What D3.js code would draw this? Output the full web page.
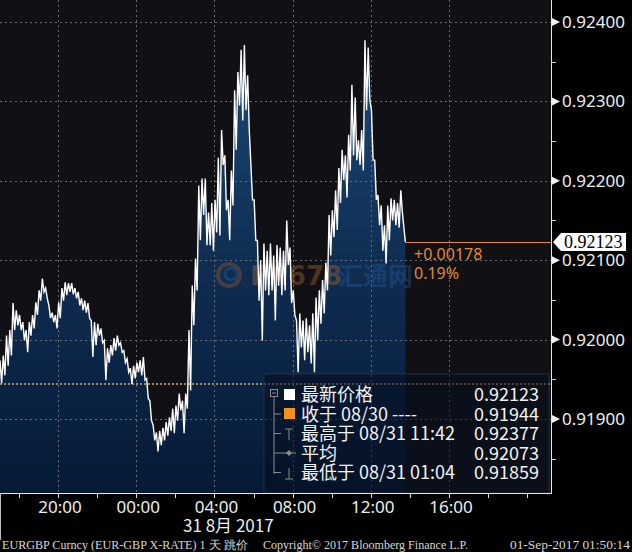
<!DOCTYPE html>
<html><head><meta charset="utf-8">
<script src="https://cdn.jsdelivr.net/npm/d3@7"></script>
<style>body{margin:0;background:#000;overflow:hidden} svg{display:block}</style>
</head><body>
<svg id="chart" width="632" height="552"></svg>
<script>
// ---------- data ----------
const startTime = new Date(2017, 7, 30, 17, 2);   // first bucket
const stepMinutes = 10;                            // each bucket: high then low
const highs = [0.91974,0.91980,0.92005,0.92012,0.92046,0.92037,0.92031,0.92022,0.92012,0.92022,
  0.92031,0.92047,0.92062,0.92077,0.92065,0.92043,0.92034,0.92031,0.92047,0.92065,
  0.92072,0.92071,0.92071,0.92065,0.92060,0.92052,0.92049,0.92046,0.92024,0.92022,
  0.92020,0.92014,0.91999,0.91989,0.91993,0.92002,0.92005,0.91996,0.91986,0.91976,
  0.91964,0.91967,0.91971,0.91974,0.91978,0.91951,0.91923,0.91892,0.91883,0.91885,
  0.91889,0.91896,0.91902,0.91913,0.91917,0.91932,0.91923,0.91932,0.92012,0.92068,
  0.92102,0.92194,0.92203,0.92203,0.92160,0.92172,0.92176,0.92229,0.92264,0.92232,
  0.92176,0.92213,0.92314,0.92337,0.92365,0.92371,0.92333,0.92220,0.92176,0.92125,
  0.92100,0.92121,0.92112,0.92121,0.92106,0.92119,0.92116,0.92112,0.92150,0.92116,
  0.92062,0.92024,0.92033,0.92024,0.92027,0.92018,0.92033,0.92053,0.92062,0.92075,
  0.92097,0.92157,0.92163,0.92188,0.92216,0.92239,0.92232,0.92258,0.92321,0.92305,
  0.92251,0.92264,0.92377,0.92368,0.92289,0.92226,0.92182,0.92169,0.92144,0.92169,
  0.92178,0.92176,0.92172,0.92188];
const lows = [0.91945,0.91955,0.91967,0.91980,0.92012,0.92018,0.92012,0.91999,0.91984,0.92005,
  0.92014,0.92031,0.92049,0.92060,0.92052,0.92027,0.92022,0.92014,0.92027,0.92049,
  0.92056,0.92060,0.92057,0.92052,0.92043,0.92037,0.92034,0.92027,0.91978,0.91993,
  0.92005,0.91996,0.91949,0.91971,0.91980,0.91986,0.91993,0.91984,0.91971,0.91959,
  0.91944,0.91951,0.91959,0.91955,0.91949,0.91926,0.91898,0.91873,0.91859,0.91867,
  0.91873,0.91879,0.91885,0.91882,0.91898,0.91911,0.91882,0.91913,0.91936,0.92018,
  0.92062,0.92125,0.92157,0.92119,0.92119,0.92112,0.92135,0.92131,0.92220,0.92163,
  0.92125,0.92169,0.92239,0.92295,0.92276,0.92289,0.92264,0.92176,0.92125,0.92049,
  0.91999,0.92062,0.92056,0.92062,0.92024,0.92068,0.92056,0.92062,0.92094,0.92046,
  0.92031,0.91959,0.91990,0.91974,0.91984,0.91970,0.91959,0.91999,0.92020,0.92033,
  0.92062,0.92106,0.92129,0.92138,0.92172,0.92201,0.92179,0.92213,0.92232,0.92226,
  0.92220,0.92213,0.92289,0.92302,0.92226,0.92176,0.92144,0.92112,0.92096,0.92125,
  0.92150,0.92144,0.92141,0.92160];
const lastTime = new Date(2017, 7, 31, 13, 46);
const lastPrice = 0.92123;
const prevClose = 0.91944;
const change = "+0.00178";
const changePct = "0.19%";
const yTicks = [0.919, 0.920, 0.921, 0.922, 0.923, 0.924];
const yMinorTicks = [0.9185, 0.9195, 0.9205, 0.9215, 0.9225, 0.9235];
const xLabelHours = [20, 0, 4, 8, 12, 16];
const dateLabel = "31 8月 2017";
const legendLabels = ["最新价格", "收于 08/30 ----", "最高于 08/31 11:42", "平均", "最低于 08/31 01:04"];
const legendValues = ["0.92123", "0.91944", "0.92377", "0.92073", "0.91859"];
const footerParts = ["EURGBP Curncy (EUR-GBP X-RATE) 1 天  跳价", "Copyright© 2017 Bloomberg Finance L.P.", "01-Sep-2017 01:50:14"];

// ---------- layout ----------
const W = 632, H = 552, PR = 551, PB = 493;
const svg = d3.select("#chart");
const x = d3.scaleTime()
  .domain([startTime, new Date(2017, 7, 31, 21, 13)])
  .range([0, PR]);
const y = d3.scaleLinear().domain([0.918068, 0.924277]).range([PB, 0]);

const pts = [];
highs.forEach((h, i) => {
  const t = d3.timeMinute.offset(startTime, i * stepMinutes);
  pts.push({t, v: h});
  pts.push({t: d3.timeMinute.offset(t, stepMinutes / 2), v: lows[i]});
});
pts.push({t: lastTime, v: lastPrice});

const defs = svg.append("defs");
const grad = defs.append("linearGradient").attr("id", "ag")
  .attr("gradientUnits", "userSpaceOnUse").attr("x1", 0).attr("x2", 0).attr("y1", 40).attr("y2", PB);
grad.append("stop").attr("offset", 0).attr("stop-color", "#1c4978");
grad.append("stop").attr("offset", 0.5).attr("stop-color", "#0f2d52");
grad.append("stop").attr("offset", 1).attr("stop-color", "#061a36");
defs.append("clipPath").attr("id", "clip").append("rect").attr("x", 0).attr("y", 0).attr("width", PR).attr("height", PB);

// background
svg.append("rect").attr("width", W).attr("height", H).attr("fill", "#000");
svg.append("rect").attr("width", PR).attr("height", PB).attr("fill", "#111115");

const plot = svg.append("g").attr("clip-path", "url(#clip)");

// area
plot.append("path").datum(pts)
  .attr("fill", "url(#ag)")
  .attr("d", d3.area().x(d => x(d.t)).y0(PB).y1(d => y(d.v)));

// grid
const gridColor = "#6a6a70";
plot.selectAll(".hg").data(yTicks).enter().append("line")
  .attr("x1", 0).attr("x2", PR).attr("y1", d => Math.round(y(d)) + 0.5).attr("y2", d => Math.round(y(d)) + 0.5)
  .attr("stroke", gridColor).attr("stroke-dasharray", "2,3");
const labelTimes = d3.timeHour.every(2).range(startTime, new Date(2017, 7, 31, 21, 13))
  .filter(t => xLabelHours.includes(t.getHours()) && x(t) < 470);
plot.selectAll(".vg").data(labelTimes).enter().append("line")
  .attr("x1", d => Math.round(x(d)) + 0.5).attr("x2", d => Math.round(x(d)) + 0.5).attr("y1", 0).attr("y2", PB)
  .attr("stroke", gridColor).attr("stroke-dasharray", "2,3");

// watermark
const wm = plot.append("g").attr("opacity", 0.32);
wm.append("circle").attr("cx", 229).attr("cy", 275).attr("r", 11).attr("fill", "none").attr("stroke", "#c0602a").attr("stroke-width", 4);
wm.append("circle").attr("cx", 231).attr("cy", 274).attr("r", 6).attr("fill", "none").attr("stroke", "#2d6aa8").attr("stroke-width", 3);
wm.append("text").attr("x", 250).attr("y", 285).attr("font-family", "DejaVu Sans").attr("font-weight", "bold")
  .attr("font-size", 26).attr("fill", "#d8782e").text("FX678");
wm.append("text").attr("x", 338).attr("y", 285).attr("font-family", "Noto Sans CJK SC").attr("font-weight", "bold")
  .attr("font-size", 25).attr("fill", "#2a66a8").text("汇通网");

// previous close dotted
plot.append("line").attr("x1", 0).attr("x2", PR).attr("y1", y(prevClose)).attr("y2", y(prevClose))
  .attr("stroke", "#d9a868").attr("stroke-width", 1.6).attr("stroke-dasharray", "2,2");

// price line
plot.append("path").datum(pts)
  .attr("fill", "none").attr("stroke", "#ffffff").attr("stroke-width", 1.4)
  .attr("d", d3.line().x(d => x(d.t)).y(d => y(d.v)));

// last price horizontal
svg.append("line").attr("x1", x(lastTime)).attr("x2", PR).attr("y1", Math.round(y(lastPrice)) + 0.5).attr("y2", Math.round(y(lastPrice)) + 0.5)
  .attr("stroke", "#e48a4a").attr("stroke-width", 1.2);
svg.append("text").attr("x", 414).attr("y", 260).attr("font-family", "Noto Sans").attr("font-size", 16)
  .attr("fill", "#e0883e").text(change);
svg.append("text").attr("x", 414).attr("y", 279).attr("font-family", "Noto Sans").attr("font-size", 16)
  .attr("fill", "#e0883e").text(changePct);

// legend box
const lg = svg.append("g");
lg.append("rect").attr("x", 264).attr("y", 374).attr("width", 285).attr("height", 119)
  .attr("fill", "rgba(6,14,30,0.55)").attr("stroke", "rgba(60,70,90,0.5)");
const rowY = [401, 420.5, 440, 459.5, 479];
const tree = "#8a8a8a";
lg.append("rect").attr("x", 270.5).attr("y", 389.5).attr("width", 7).attr("height", 7).attr("fill", "none").attr("stroke", tree);
lg.append("line").attr("x1", 272).attr("x2", 276).attr("y1", 393).attr("y2", 393).attr("stroke", tree);
lg.append("line").attr("x1", 274).attr("x2", 274).attr("y1", 397).attr("y2", 474).attr("stroke", tree);
[1, 2, 3, 4].forEach(i => lg.append("line").attr("x1", 274).attr("x2", 281).attr("y1", rowY[i] - 6.5).attr("y2", rowY[i] - 6.5).attr("stroke", tree));
lg.append("rect").attr("x", 284).attr("y", 389).attr("width", 11).attr("height", 11).attr("fill", "#ffffff");
lg.append("rect").attr("x", 284).attr("y", 408).attr("width", 11).attr("height", 11).attr("fill", "#f0941c");
// high icon
lg.append("line").attr("x1", 285).attr("x2", 293).attr("y1", 429).attr("y2", 429).attr("stroke", tree);
lg.append("line").attr("x1", 289).attr("x2", 289).attr("y1", 429).attr("y2", 440).attr("stroke", tree);
// avg icon
lg.append("line").attr("x1", 281).attr("x2", 296).attr("y1", 453).attr("y2", 453).attr("stroke", tree);
lg.append("path").attr("d", "M289,450 L292,453 L289,456 L286,453 Z").attr("fill", tree);
// low icon
lg.append("line").attr("x1", 285).attr("x2", 293).attr("y1", 479).attr("y2", 479).attr("stroke", tree);
lg.append("line").attr("x1", 289).attr("x2", 289).attr("y1", 468).attr("y2", 479).attr("stroke", tree);
lg.selectAll(".ll").data(legendLabels).enter().append("text")
  .attr("x", 301).attr("y", (d, i) => rowY[i]).attr("font-family", "Noto Sans CJK SC").attr("font-size", 18)
  .attr("fill", "#f2f2f2").text(d => d);
lg.selectAll(".lv").data(legendValues).enter().append("text")
  .attr("x", 539).attr("y", (d, i) => rowY[i]).attr("text-anchor", "end").attr("font-family", "Noto Sans CJK SC").attr("font-size", 18)
  .attr("fill", "#f2f2f2").text(d => d);

// axes lines
svg.append("line").attr("x1", PR + 0.5).attr("x2", PR + 0.5).attr("y1", 0).attr("y2", PB + 1).attr("stroke", "#e8e8e8");
svg.append("line").attr("x1", 0).attr("x2", PR + 1).attr("y1", PB + 0.5).attr("y2", PB + 0.5).attr("stroke", "#e8e8e8");
svg.append("line").attr("x1", 0.5).attr("x2", 0.5).attr("y1", PB).attr("y2", 540).attr("stroke", "#bbbbbb");

// right axis
const ra = svg.append("g");
ra.selectAll(".mt").data(yMinorTicks).enter().append("line")
  .attr("x1", PR).attr("x2", PR + 5).attr("y1", d => Math.round(y(d)) + 0.5).attr("y2", d => Math.round(y(d)) + 0.5).attr("stroke", "#cccccc");
ra.selectAll(".tri").data(yTicks).enter().append("path")
  .attr("d", d => { const yy = y(d); return `M${PR + 1},${yy - 4} L${PR + 9},${yy} L${PR + 1},${yy + 4} Z`; })
  .attr("fill", "#f0f0f0");
ra.selectAll(".tl").data(yTicks).enter().append("text")
  .attr("x", 562).attr("y", d => y(d) + 6).attr("font-family", "Noto Sans").attr("font-size", 17)
  .attr("fill", "#eeeeee").text(d => d3.format(".5f")(d));

// current price tag
const ly = y(lastPrice);
svg.append("path").attr("d", `M553,${ly} L561,${ly - 9} L626,${ly - 9} L626,${ly + 9} L561,${ly + 9} Z`).attr("fill", "#ffffff");
svg.append("text").attr("x", 564).attr("y", ly + 6.5).attr("font-family", "Liberation Serif").attr("font-size", 18)
  .attr("fill", "#000").text(d3.format(".5f")(lastPrice));

// bottom axis
const xa = svg.append("g");
const tickTimes = d3.timeHour.every(2).range(startTime, new Date(2017, 7, 31, 21, 13));
xa.selectAll(".xt").data(tickTimes).enter().append("line")
  .attr("x1", d => Math.round(x(d)) + 0.5).attr("x2", d => Math.round(x(d)) + 0.5).attr("y1", PB).attr("y2", PB + 5).attr("stroke", "#dddddd");
xa.selectAll(".xl").data(labelTimes).enter().append("text")
  .attr("x", d => x(d) + 2).attr("y", 513).attr("text-anchor", "middle").attr("font-family", "Noto Sans").attr("font-size", 17)
  .attr("fill", "#eeeeee").text(d3.timeFormat("%H:%M"));
xa.append("text").attr("x", 183).attr("y", 532).attr("font-family", "Noto Sans CJK SC").attr("font-size", 17)
  .attr("fill", "#eeeeee").text(dateLabel);

// footer
const fx = [2, 263, 510], fw = [246, 205, 120];
svg.selectAll(".ft").data(footerParts).enter().append("text")
  .attr("x", (d, i) => fx[i]).attr("y", 549).attr("font-family", "Liberation Serif").attr("font-size", 12)
  .attr("textLength", (d, i) => fw[i]).attr("lengthAdjust", "spacingAndGlyphs")
  .attr("fill", "#d8d8d8").text(d => d);
</script>
</body></html>
